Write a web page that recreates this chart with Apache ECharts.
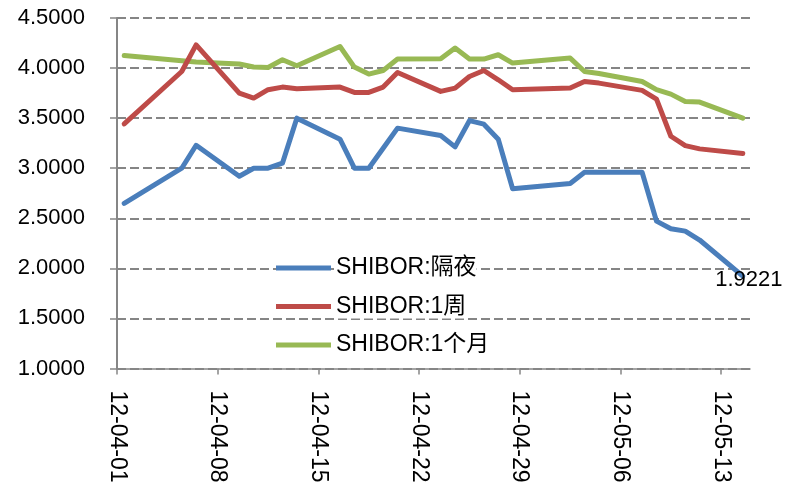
<!DOCTYPE html>
<html>
<head>
<meta charset="utf-8">
<script src="https://cdn.jsdelivr.net/npm/echarts@6/dist/echarts.min.js"></script>
<style>
  html, body { margin: 0; padding: 0; background: #fff; }
  #chart { width: 789px; height: 495px; }
</style>
</head>
<body>
<div id="chart"></div>
<script>
// trading days (2012)
var dates = ['2012-04-01', '2012-04-05', '2012-04-06', '2012-04-09', '2012-04-10', '2012-04-11', '2012-04-12',
  '2012-04-13', '2012-04-16', '2012-04-17', '2012-04-18', '2012-04-19', '2012-04-20', '2012-04-23',
  '2012-04-24', '2012-04-25', '2012-04-26', '2012-04-27', '2012-04-28', '2012-05-02', '2012-05-03',
  '2012-05-04', '2012-05-07', '2012-05-08', '2012-05-09', '2012-05-10', '2012-05-11', '2012-05-14'];

var overnight = [2.648, 3.000, 3.229, 2.920, 3.000, 3.000, 3.050, 3.500, 3.290, 3.000, 3.000, 3.200, 3.400, 3.326,
  3.213, 3.475, 3.440, 3.290, 2.795, 2.848, 2.960, 2.960, 2.960, 2.472, 2.396, 2.372, 2.283, 1.9221];

var week1 = [3.442, 3.966, 4.232, 3.750, 3.700, 3.784, 3.810, 3.794, 3.810, 3.757, 3.757, 3.810, 3.956, 3.767,
  3.800, 3.916, 3.976, 3.883, 3.784, 3.800, 3.866, 3.850, 3.777, 3.690, 3.319, 3.226, 3.193, 3.146];

var month1 = [4.126, 4.073, 4.060, 4.040, 4.010, 4.006, 4.083, 4.023, 4.215, 4.010, 3.940, 3.976, 4.090, 4.093,
  4.200, 4.090, 4.090, 4.133, 4.050, 4.100, 3.966, 3.946, 3.866, 3.784, 3.740, 3.667, 3.660, 3.500];

var seriesNames = ['SHIBOR:隔夜', 'SHIBOR:1周', 'SHIBOR:1个月'];
var colors = ['#4a7ebb', '#be4b48', '#98b954'];

var startDay = Date.UTC(2012, 3, 1);
var DAY = 86400000;

function dayIndex(s) {
  var p = s.split('-');
  return (Date.UTC(+p[0], +p[1] - 1, +p[2]) - startDay) / DAY;
}

function pairs(values) {
  var res = [];
  for (var i = 0; i < dates.length; i++) {
    res.push([dayIndex(dates[i]) + 0.5, values[i]]);
  }
  return res;
}

function pad(n) { return n < 10 ? '0' + n : '' + n; }

function dayLabel(v) {
  var d = new Date(startDay + v * DAY);
  return pad(d.getUTCFullYear() % 100) + '-' + pad(d.getUTCMonth() + 1) + '-' + pad(d.getUTCDate());
}

var allData = [pairs(overnight), pairs(week1), pairs(month1)];
var series = [];
for (var i = 0; i < 3; i++) {
  series.push({
    name: seriesNames[i],
    type: 'line',
    data: allData[i],
    symbol: 'none',
    color: colors[i],
    lineStyle: { width: 5, color: colors[i], cap: 'round', join: 'round' },
    animation: false,
    z: 3 - i
  });
}
// value label at the end of the overnight line
series[0].endLabel = {
  show: true,
  distance: 0,
  align: 'center',
  verticalAlign: 'middle',
  offset: [6, 4],
  color: '#000',
  fontFamily: 'Liberation Sans',
  fontSize: 22,
  formatter: function (p) { return p.value[1].toFixed(4); }
};

var chart = echarts.init(document.getElementById('chart'));
chart.setOption({
  animation: false,
  grid: { left: 117, right: 39, top: 18, bottom: 126.5, containLabel: false },
  legend: {
    orient: 'vertical',
    left: 271,
    top: 251,
    itemWidth: 55,
    itemHeight: 5,
    itemGap: 14.5,
    icon: 'rect',
    data: seriesNames,
    textStyle: {
      fontFamily: 'Liberation Sans, Noto Sans CJK SC',
      fontSize: 23,
      color: '#000',
      lineHeight: 24,
      backgroundColor: '#fff'
    }
  },
  xAxis: {
    type: 'value',
    min: 0,
    max: 44,
    interval: 7,
    axisLine: { lineStyle: { color: '#868686', width: 1.5 } },
    axisTick: { show: true, length: 6, lineStyle: { color: '#868686', width: 1.5 } },
    splitLine: { show: false },
    axisLabel: {
      rotate: -90,
      margin: 22,
      color: '#000',
      fontFamily: 'Liberation Sans',
      fontSize: 23,
      showMaxLabel: false,
      formatter: dayLabel
    }
  },
  yAxis: {
    type: 'value',
    min: 1,
    max: 4.5,
    interval: 0.5,
    axisLine: { show: true, lineStyle: { color: '#868686', width: 2 } },
    axisTick: { show: true, length: 7, lineStyle: { color: '#868686', width: 1.5 } },
    splitLine: { show: true, lineStyle: { color: '#858585', width: 2, type: [9, 4] } },
    axisLabel: {
      margin: 32,
      color: '#000',
      fontFamily: 'Liberation Sans',
      fontSize: 22,
      formatter: function (v) { return v.toFixed(4); }
    }
  },
  series: series
});
</script>
</body>
</html>
